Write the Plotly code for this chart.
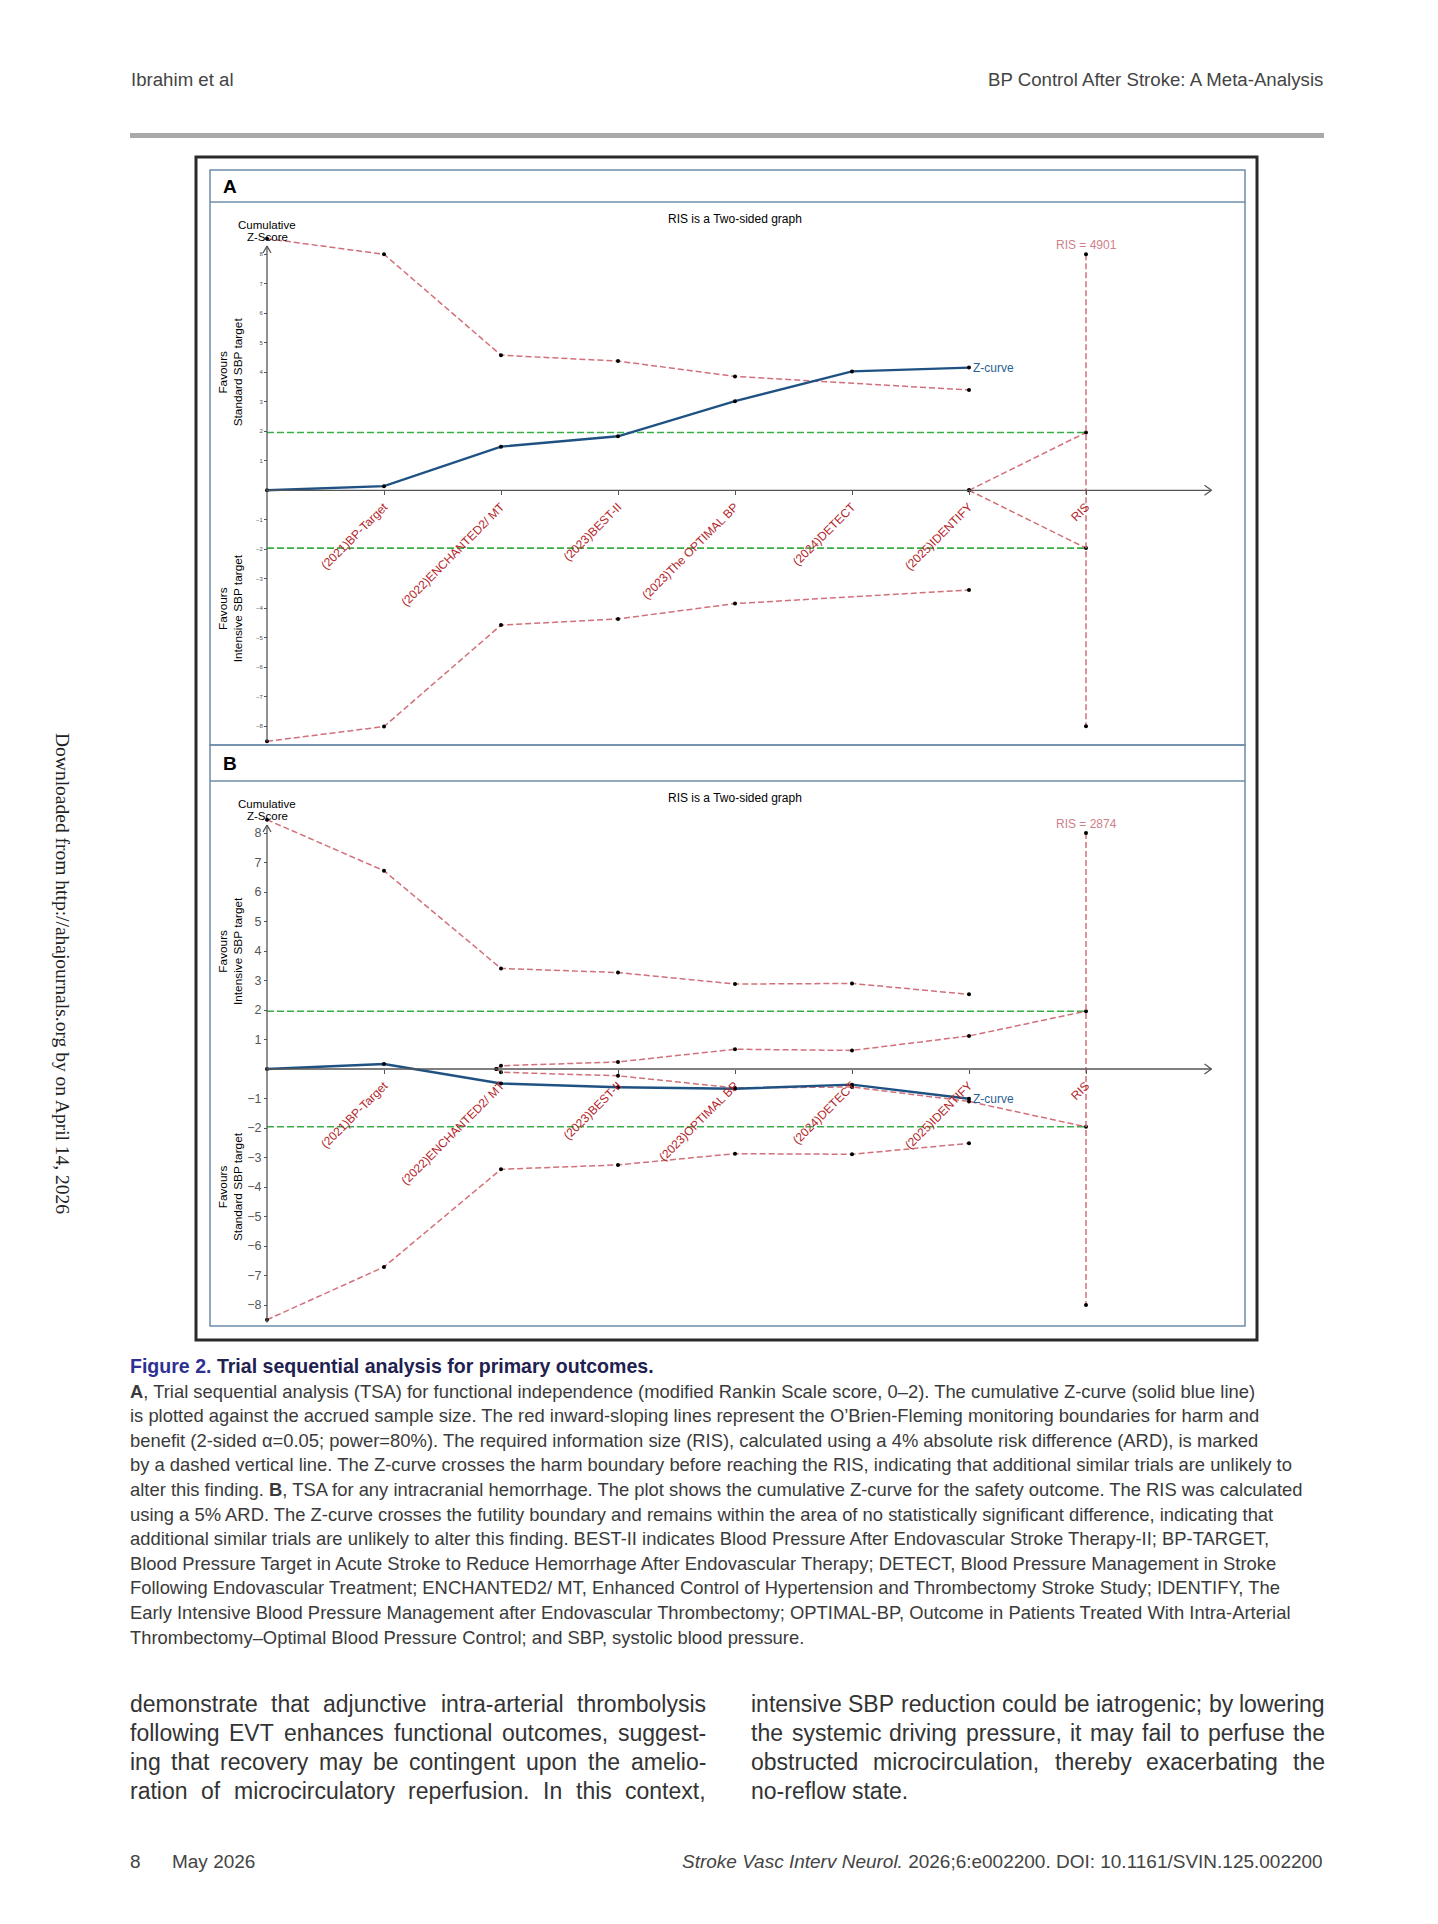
import plotly.graph_objects as go

W, H = 1438, 1924
def px(x): return x / W
def py(y): return 1 - y / H

# ---------------- data ----------------
labels_A = ["(2021)BP-Target", "(2022)ENCHANTED2/ MT", "(2023)BEST-II", "(2023)The OPTIMAL BP",
            "(2024)DETECT", "(2025)IDENTIFY", "RIS"]
labels_B = ["(2021)BP-Target", "(2022)ENCHANTED2/ MT", "(2023)BEST-II", "(2023)OPTIMAL BP",
            "(2024)DETECT", "(2025)IDENTIFY", "RIS"]
tick_pos = [1, 2, 3, 4, 5, 6, 7]
y_ticks = [-8, -7, -6, -5, -4, -3, -2, -1, 1, 2, 3, 4, 5, 6, 7, 8]

crit = 1.96

# Panel A: functional independence
zA_x = [0, 1, 2, 3, 4, 5, 6]
zA = [0, 0.14, 1.48, 1.83, 3.02, 4.03, 4.16]
bndA_x = [0, 1, 2, 3, 4, 6]
bndA_up = [8.53, 8.0, 4.58, 4.38, 3.86, 3.40]
bndA_lo = [-8.51, -8.01, -4.57, -4.36, -3.84, -3.38]
futA_x = [6, 7]
futA_up = [0, 1.96]
futA_lo = [0, -1.96]
risA_value = 4901
risA_x = 7
risA_y = [8, -8]

# Panel B: any intracranial hemorrhage
zB_x = [0, 1, 2, 3, 4, 5, 6]
zB = [0, 0.17, -0.49, -0.62, -0.67, -0.53, -1.01]
bndB_x = [0, 1, 2, 3, 4, 5, 6]
bndB_up = [8.45, 6.72, 3.41, 3.27, 2.88, 2.90, 2.53]
bndB_lo = [-8.50, -6.71, -3.40, -3.25, -2.87, -2.89, -2.52]
futB_x = [1.96, 2, 3, 4, 5, 6, 7]
futB_up = [0, 0.11, 0.24, 0.67, 0.63, 1.12, 1.96]
futB_lo = [0, -0.11, -0.23, -0.64, -0.61, -1.10, -1.96]
risB_value = 2874
risB_x = 7
risB_y = [8, -8]

# ---------------- text metrics (Arial / Liberation Sans advance widths, em/1000) ----------------
_REG = {' ': 278, '!': 278, '"': 355, '#': 556, '$': 556, '%': 889, '&': 667, "'": 191, '(': 333, ')': 333,
        '*': 389, '+': 584, ',': 278, '-': 333, '.': 278, '/': 278, ':': 278, ';': 278, '=': 584, '?': 556,
        'A': 667, 'B': 667, 'C': 722, 'D': 722, 'E': 667, 'F': 611, 'G': 778, 'H': 722, 'I': 278, 'J': 500,
        'K': 667, 'L': 556, 'M': 833, 'N': 722, 'O': 778, 'P': 667, 'Q': 778, 'R': 722, 'S': 667, 'T': 611,
        'U': 722, 'V': 667, 'W': 944, 'X': 667, 'Y': 667, 'Z': 611,
        'a': 556, 'b': 556, 'c': 500, 'd': 556, 'e': 556, 'f': 278, 'g': 556, 'h': 556, 'i': 222, 'j': 222,
        'k': 500, 'l': 222, 'm': 833, 'n': 556, 'o': 556, 'p': 556, 'q': 556, 'r': 333, 's': 500, 't': 278,
        'u': 556, 'v': 500, 'w': 722, 'x': 500, 'y': 500, 'z': 500, '\u2013': 556, '\u2019': 222, '\u03b1': 578}
_BOLD = dict(_REG)
_BOLD.update({'A': 722, 'B': 722, 'C': 722, 'D': 722, 'E': 667, 'F': 611, 'G': 778, 'H': 722, 'T': 611,
              'a': 556, 'b': 611, 'c': 556, 'd': 611, 'e': 556, 'f': 333, 'g': 611, 'h': 611, 'i': 278,
              'j': 278, 'k': 556, 'l': 278, 'm': 889, 'n': 611, 'o': 611, 'p': 611, 'q': 611, 'r': 389,
              's': 556, 't': 333, 'u': 611, 'v': 556, 'w': 778, 'x': 556, 'y': 556, 'z': 500, '.': 278})

def em(s, bold=False):
    t = _BOLD if bold else _REG
    return sum(t.get(c, 556) for c in s) / 1000.0

# ---------------- styles ----------------
RED = "#d2707a"
GREEN = "#3aae46"
BLUE = "#1f5283"
TICKRED = "#b3262b"
AX = "#555555"
FONT = "Liberation Sans, Arial, sans-serif"
SERIF = "Liberation Serif, Times New Roman, serif"

# geometry (pixels)
X0_PX, PX_PER_X = 259, 117.0
PANEL_L, PANEL_R = 202, 1237
UNIT = 29.5
panels = {
    "A": dict(top=162, head=194, bottom=737, zero=482.3),
    "B": dict(top=737, head=773, bottom=1318, zero=1061.0),
}

fig = go.Figure()

def note(x, y, text, size, color="#333", family=FONT, xanchor="center", yanchor="middle", **kw):
    fig.add_annotation(x=px(x), y=py(y), xref="paper", yref="paper", text=text, showarrow=False,
                       xanchor=xanchor, yanchor=yanchor, borderpad=0,
                       font=dict(family=family, size=size, color=color), **kw)

def add_panel(idx, zx, z, bx, bup, blo, fx, fup, flo, risx, risy, risval):
    xr = "x" if idx == 1 else "x%d" % idx
    yr = "y" if idx == 1 else "y%d" % idx
    kw = dict(xaxis=xr, yaxis=yr, showlegend=False, hoverinfo="skip")
    for c in (crit, -crit):
        fig.add_trace(go.Scatter(x=[0, risx], y=[c, c], mode="lines",
                                 line=dict(color=GREEN, width=1.6, dash="7px,3px"), **kw))
    for xx, yy in ((bx, bup), (bx, blo), (fx, fup), (fx, flo), ([risx, risx], risy)):
        fig.add_trace(go.Scatter(x=xx, y=yy, mode="lines+markers",
                                 line=dict(color=RED, width=1.5, dash="6px,3px"),
                                 marker=dict(color="black", size=4), **kw))
    fig.add_trace(go.Scatter(x=zx, y=z, mode="lines+markers",
                             line=dict(color=BLUE, width=2.4),
                             marker=dict(color="black", size=4), **kw))
    fig.add_annotation(x=zx[-1], y=z[-1], xref=xr, yref=yr, text="Z-curve", showarrow=False,
                       xanchor="left", yanchor="middle", xshift=2,
                       font=dict(family=FONT, size=12, color="#2b5f92"))
    fig.add_annotation(x=risx, y=risy[0], xref=xr, yref=yr, text="RIS = %d" % risval,
                       showarrow=False, xanchor="center", yanchor="bottom", yshift=0,
                       font=dict(family=FONT, size=12, color="#d0808a"))

def layout_axes(idx, p, labels, tickfont_size):
    xr_range = [(PANEL_L - X0_PX) / PX_PER_X, (PANEL_R - X0_PX) / PX_PER_X]
    yr_range = [(p["zero"] - p["bottom"]) / UNIT, (p["zero"] - p["head"]) / UNIT]
    xname = "xaxis" if idx == 1 else "xaxis%d" % idx
    yname = "yaxis" if idx == 1 else "yaxis%d" % idx
    fig.update_layout(**{
        xname: dict(domain=[px(PANEL_L), px(PANEL_R)], range=xr_range, anchor="free",
                    position=py(p["zero"]), showgrid=False, zeroline=False, showline=False,
                    tickvals=tick_pos, ticktext=labels, tickangle=-45, ticks="outside",
                    ticklen=4, tickcolor=AX, tickwidth=1,
                    tickfont=dict(family=FONT, size=12, color=TICKRED), fixedrange=True),
        yname: dict(domain=[py(p["bottom"]), py(p["head"])], range=yr_range, anchor="free",
                    position=px(X0_PX), showgrid=False, zeroline=False, showline=False,
                    tickvals=y_ticks, ticks="outside", ticklen=3, tickcolor=AX, tickwidth=1,
                    tickfont=dict(family=FONT, size=tickfont_size, color="#555"), fixedrange=True),
    })
    xr = "x" if idx == 1 else "x%d" % idx
    yr = "y" if idx == 1 else "y%d" % idx
    x_end = (1203.5 - X0_PX) / PX_PER_X
    y_top = (p["zero"] - (p["head"] + 44)) / UNIT
    y_bot = yr_range[0] + 0.12
    ax_line = dict(color=AX, width=1.3)
    fig.add_shape(type="line", xref=xr, yref=yr, x0=0, x1=x_end, y0=0, y1=0, line=ax_line)
    fig.add_shape(type="line", xref=xr, yref=yr, x0=0, x1=0, y0=y_bot, y1=y_top, line=ax_line)
    dx, dy = 7 / PX_PER_X, 5 / UNIT
    fig.add_shape(type="line", xref=xr, yref=yr, x0=x_end - dx, x1=x_end, y0=dy, y1=0, line=ax_line)
    fig.add_shape(type="line", xref=xr, yref=yr, x0=x_end - dx, x1=x_end, y0=-dy, y1=0, line=ax_line)
    dx2, dy2 = 4 / PX_PER_X, 7 / UNIT
    fig.add_shape(type="line", xref=xr, yref=yr, x0=-dx2, x1=0, y0=y_top - dy2, y1=y_top, line=ax_line)
    fig.add_shape(type="line", xref=xr, yref=yr, x0=dx2, x1=0, y0=y_top - dy2, y1=y_top, line=ax_line)

add_panel(1, zA_x, zA, bndA_x, bndA_up, bndA_lo, futA_x, futA_up, futA_lo, risA_x, risA_y, risA_value)
add_panel(2, zB_x, zB, bndB_x, bndB_up, bndB_lo, futB_x, futB_up, futB_lo, risB_x, risB_y, risB_value)
layout_axes(1, panels["A"], labels_A, 6)
layout_axes(2, panels["B"], labels_B, 12.5)

# ---------------- frames ----------------
fig.add_shape(type="rect", xref="paper", yref="paper", x0=px(188), x1=px(1249), y0=py(1332), y1=py(149),
              line=dict(color="#2a2a2a", width=3))
for key in ("A", "B"):
    p = panels[key]
    fig.add_shape(type="rect", xref="paper", yref="paper", x0=px(PANEL_L), x1=px(PANEL_R),
                  y0=py(p["bottom"]), y1=py(p["top"]), line=dict(color="#6f8cab", width=1.5))
    fig.add_shape(type="line", xref="paper", yref="paper", x0=px(PANEL_L), x1=px(PANEL_R),
                  y0=py(p["head"]), y1=py(p["head"]), line=dict(color="#6f8cab", width=1.5))
    note(214, (p["top"] + p["head"]) / 2 + 1, "<b>%s</b>" % key, 19, color="black", xanchor="left")
    note(727, p["head"] + 17, "RIS is a Two-sided graph", 12, color="black")
    note(X0_PX, p["head"] + 23, "Cumulative", 11.5, color="black")
    note(X0_PX, p["head"] + 35, "Z-Score", 11.5, color="black")
    up_txt = "Favours<br>Standard SBP target" if key == "A" else "Favours<br>Intensive SBP target"
    lo_txt = "Favours<br>Intensive SBP target" if key == "A" else "Favours<br>Standard SBP target"
    for txt, zc in ((up_txt, 4), (lo_txt, -4)):
        note(222, p["zero"] - zc * UNIT, txt, 11.8, color="#000", textangle=-90)

# ---------------- page text ----------------
hdr_r = "BP Control After Stroke: A Meta-Analysis"
hdr_size = 339 / em(hdr_r)
note(122, 71, "Ibrahim et al", hdr_size, color="#444", xanchor="left")
note(1316, 71, hdr_r, hdr_size, color="#444", xanchor="right")
fig.add_shape(type="rect", xref="paper", yref="paper", x0=px(122), x1=px(1316), y0=py(130), y1=py(125),
              fillcolor="#a9a9a9", line=dict(width=0))

side = "Downloaded from http://ahajournals.org by on April 14, 2026"
note(54, 965, side, 19.5, color="#222", family=SERIF, textangle=90)

cap_title_a = "Figure 2."
cap_title_b = " Trial sequential analysis for primary outcomes."
cap_title_size = 525 / em(cap_title_a + cap_title_b, bold=True)
note(121, 1358, "<b><span style='color:#2e3192'>%s</span>%s</b>" % (cap_title_a, cap_title_b),
     cap_title_size, color="#1f2150", xanchor="left")

caption = [
    "A, Trial sequential analysis (TSA) for functional independence (modified Rankin Scale score, 0\u20132). The cumulative Z-curve (solid blue line)",
    "is plotted against the accrued sample size. The red inward-sloping lines represent the O\u2019Brien-Fleming monitoring boundaries for harm and",
    "benefit (2-sided \u03b1=0.05; power=80%). The required information size (RIS), calculated using a 4% absolute risk difference (ARD), is marked",
    "by a dashed vertical line. The Z-curve crosses the harm boundary before reaching the RIS, indicating that additional similar trials are unlikely to",
    "alter this finding. B, TSA for any intracranial hemorrhage. The plot shows the cumulative Z-curve for the safety outcome. The RIS was calculated",
    "using a 5% ARD. The Z-curve crosses the futility boundary and remains within the area of no statistically significant difference, indicating that",
    "additional similar trials are unlikely to alter this finding. BEST-II indicates Blood Pressure After Endovascular Stroke Therapy-II; BP-TARGET,",
    "Blood Pressure Target in Acute Stroke to Reduce Hemorrhage After Endovascular Therapy; DETECT, Blood Pressure Management in Stroke",
    "Following Endovascular Treatment; ENCHANTED2/ MT, Enhanced Control of Hypertension and Thrombectomy Stroke Study; IDENTIFY, The",
    "Early Intensive Blood Pressure Management after Endovascular Thrombectomy; OPTIMAL-BP, Outcome in Patients Treated With Intra-Arterial",
    "Thrombectomy\u2013Optimal Blood Pressure Control; and SBP, systolic blood pressure.",
]
cap_size = 0.5 * (1176 / em(caption[4]) + 676 / em(caption[10]))
for i, line in enumerate(caption):
    txt = line
    if i == 0:
        txt = "<b>A</b>" + line[1:]
    if i == 4:
        txt = line.replace(" B, TSA", " <b>B</b>, TSA")
    note(121, 1383 + i * 24.6, txt, cap_size, color="#3a3a3a", xanchor="left")

left_col = ["demonstrate that adjunctive intra-arterial thrombolysis",
            "following EVT enhances functional outcomes, suggest-",
            "ing that recovery may be contingent upon the amelio-",
            "ration of microcirculatory reperfusion. In this context,"]
right_col = ["intensive SBP reduction could be iatrogenic; by lowering",
             "the systemic driving pressure, it may fail to perfuse the",
             "obstructed microcirculation, thereby exacerbating the",
             "no-reflow state."]
BODY = 23

def justified(x0, x1, y, line, size, justify=True):
    words = line.split(" ")
    if not justify:
        note(x0, y, line, size, color="#333", xanchor="left")
        return
    widths = [em(w) * size for w in words]
    gap = (x1 - x0 - sum(widths)) / (len(words) - 1)
    x = x0
    for w, wd in zip(words, widths):
        note(x, y, w, size, color="#333", xanchor="left")
        x += wd + gap

for i, line in enumerate(left_col):
    justified(121, 697, 1696 + i * 29, line, BODY)
for i, line in enumerate(right_col):
    justified(742, 1316, 1696 + i * 29, line, BODY, justify=(i < 3))

foot_r_a = "Stroke Vasc Interv Neurol."
foot_r_b = " 2026;6:e002200. DOI: 10.1161/SVIN.125.002200"
foot_size = 643 / em(foot_r_a + foot_r_b)
note(121, 1853, "8", foot_size, color="#444", xanchor="left")
note(163, 1853, "May 2026", foot_size, color="#444", xanchor="left")
note(1316, 1853, "<i>%s</i>%s" % (foot_r_a, foot_r_b), foot_size, color="#444", xanchor="right")

fig.update_layout(width=W, height=H, margin=dict(l=0, r=0, t=0, b=0),
                  paper_bgcolor="white", plot_bgcolor="rgba(0,0,0,0)", showlegend=False)

fig.write_html("out.html")
